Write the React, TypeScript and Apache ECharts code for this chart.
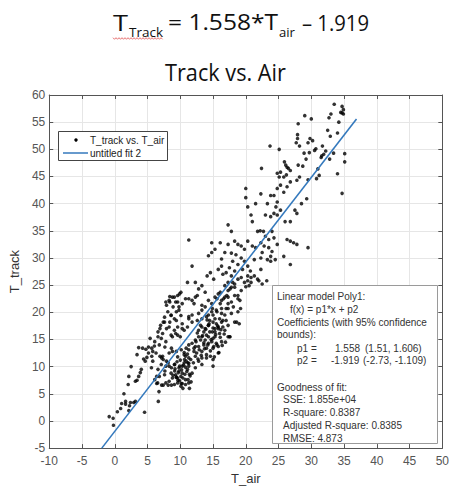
import { useEffect, useRef } from "react";
import * as echarts from "echarts";

// Fit coefficients (Linear model Poly1)
const p1 = 1.558;
const p2 = -1.919;
const fitXRange = [-1.98, 36.9];

// Scatter points [T_air, T_track], grouped by region
const lowRegion: number[][] = [
  [-0.85, 0.8], [-0.25, 0.5], [-0.2, -0.8], [0.4, 1.7], [0.9, 2.3], [1.05, 3.2], [1.65, 3.6], [1.65, 3.1],
  [2.25, 2.8], [2.4, 3.4], [2.9, 3.4], [3.15, 3.6], [2.15, 1.9], [1.4, 5.0], [2.05, 6.7], [2.15, 8.2],
  [2.5, 10.0], [3.15, 7.3], [3.4, 7.5], [3.65, 8.2], [3.9, 8.9], [4.05, 9.5], [4.55, 1.6], [4.65, 11.0],
  [4.4, 11.4], [4.9, 11.7], [3.4, 12.2], [3.65, 13.5], [4.25, 13.4], [4.75, 13.2], [5.15, 13.6], [5.65, 13.4],
  [6.05, 13.8], [5.15, 12.5], [5.65, 11.9], [6.4, 8.2], [6.55, 7.0], [6.4, 6.9], [6.75, 5.4], [6.65, 3.6],
  [7.65, 9.2], [7.15, 6.6], [7.4, 6.6], [8.15, 6.6], [8.65, 6.6], [6.9, 11.9], [7.15, 11.6], [7.4, 11.3],
  [7.9, 11.0], [8.15, 10.7], [8.65, 9.8], [9.15, 9.2], [8.9, 8.4], [9.4, 8.1], [9.65, 7.5], [10.15, 6.9],
  [10.4, 6.0], [9.15, 10.4], [9.9, 10.1], [7.65, 13.6], [8.65, 13.4], [9.4, 12.8], [10.15, 13.1], [10.9, 13.4],
  [10.65, 11.3], [11.15, 10.7], [11.4, 8.6], [11.65, 7.2], [11.4, 6.0],
];

const upperLeftRegion: number[][] = [
  [11.1, 25.5], [10.1, 23.7], [9.9, 23.4], [9.1, 22.8], [9.6, 21.9], [8.4, 21.9], [7.9, 21.3], [8.9, 21.0],
  [9.8, 21.0], [9.4, 20.1], [8.1, 20.1], [7.6, 19.1], [8.6, 19.4], [10.1, 19.4], [7.4, 18.2], [8.4, 18.2],
  [9.4, 18.5], [6.9, 17.0], [7.9, 17.0], [9.1, 16.7], [6.6, 16.4], [7.1, 15.2], [5.4, 15.2], [8.6, 15.8],
  [9.6, 15.8], [10.3, 17.0], [7.8, 21.9], [8.3, 22.2], [8.8, 22.8], [9.3, 21.9], [9.6, 23.1], [8.6, 19.5],
  [9.1, 18.8], [9.8, 20.4], [10.3, 21.6], [10.8, 22.5], [11.3, 22.5], [11.8, 22.2], [12.3, 22.8], [11.3, 19.2],
  [11.8, 18.2], [11.1, 17.3], [10.3, 17.9], [9.6, 17.3], [8.3, 17.3], [7.6, 18.2], [7.0, 17.6], [7.3, 16.1],
  [6.6, 15.5], [6.1, 14.6], [6.8, 14.0], [7.8, 14.6], [8.8, 15.5], [9.3, 16.1], [10.0, 15.5], [10.6, 16.7],
  [5.8, 12.8], [6.3, 12.5], [7.3, 11.9], [8.3, 12.5], [8.8, 12.8], [5.8, 11.0], [5.6, 9.8], [6.6, 9.5],
  [7.1, 10.4], [7.8, 10.1], [6.8, 8.2], [6.1, 7.6], [8.4, 22.9],
];

const middleRegion: number[][] = [
  [12.8, 19.8], [13.3, 20.4], [13.8, 21.0], [14.3, 22.2], [14.8, 21.6], [15.3, 22.8], [15.8, 23.4], [16.3, 22.2],
  [16.8, 22.8], [17.3, 21.6], [14.0, 19.2], [14.5, 18.5], [15.0, 19.5], [15.5, 17.9], [16.0, 18.8], [16.5, 17.3],
  [17.0, 18.5], [17.5, 15.5], [13.3, 17.3], [13.6, 16.4], [12.8, 15.5], [13.1, 14.9], [13.8, 14.9], [14.3, 15.5],
  [14.8, 14.6], [15.3, 15.5], [15.8, 13.7], [12.3, 13.7], [11.8, 14.3], [11.3, 13.1], [12.5, 12.5], [13.3, 12.8],
  [14.0, 13.4], [14.6, 11.9], [10.8, 11.9], [11.6, 11.3], [12.0, 10.7], [12.8, 11.0], [10.3, 10.1], [9.8, 9.2],
  [11.1, 9.5], [11.8, 8.8], [9.3, 8.5], [10.1, 8.2], [10.8, 7.6], [8.8, 7.9], [8.3, 7.3], [7.8, 7.0],
  [9.6, 7.0], [11.3, 7.0], [15.0, 10.1], [15.8, 12.5], [17.3, 15.5],
  [11.3, 14.0], [12.1, 13.4], [12.8, 13.7], [13.6, 14.0], [14.3, 14.3], [15.0, 13.4], [15.5, 14.3],
  [10.6, 12.2], [11.3, 11.6], [12.3, 11.9], [13.3, 11.6], [14.0, 12.2], [15.0, 11.3],
  [8.3, 10.1], [9.1, 10.4], [9.8, 9.8], [10.6, 10.7], [11.3, 10.1], [12.3, 9.8], [13.3, 10.4],
  [7.6, 8.5], [8.6, 8.8], [9.6, 7.9], [10.3, 8.8], [10.8, 6.7], [9.1, 6.7], [10.1, 6.4],
  [12.8, 16.7], [13.8, 17.0], [14.5, 16.4], [15.3, 17.0], [16.0, 16.1], [16.8, 16.7], [12.3, 14.9], [13.3, 15.5],
  [14.0, 15.8], [15.0, 15.2], [16.3, 14.6], [14.8, 20.1], [15.5, 20.4], [16.3, 19.8], [17.0, 20.7], [14.3, 17.6],
  [15.0, 18.2], [15.8, 17.3], [16.5, 18.5],
];

const denseClusters: number[][] = [
  [9.2, 9.6], [9.5, 10.9], [9.7, 8.9], [9.9, 7.4], [10.0, 11.2], [10.2, 9.4], [10.4, 7.9], [10.5, 10.3],
  [10.7, 8.6], [10.9, 11.0], [11.0, 9.1], [11.2, 7.6], [11.3, 10.6], [11.5, 8.3], [10.3, 6.9], [9.4, 8.0],
  [10.8, 9.9], [11.1, 12.3], [9.6, 11.8], [10.6, 12.6],
  [12.1, 12.8], [12.4, 14.6], [12.6, 16.2], [12.9, 13.1], [13.1, 17.6], [13.2, 12.1], [13.4, 15.7], [13.7, 13.3],
  [13.9, 16.9], [14.0, 11.6], [14.2, 14.0], [14.4, 17.9], [14.6, 12.9], [14.7, 15.0], [14.9, 16.4], [15.1, 13.7],
  [15.2, 11.8], [15.4, 15.9], [15.6, 14.0], [15.7, 17.5], [15.9, 12.6], [16.1, 15.4], [16.2, 16.8], [16.4, 13.9],
  [16.7, 16.0], [16.9, 14.5], [12.7, 11.4], [13.6, 14.4], [14.1, 18.6], [15.0, 17.1],
];

const centralRegion: number[][] = [
  [11.3, 33.3], [11.8, 28.5], [12.3, 25.5], [12.8, 24.3], [13.3, 24.9], [13.8, 23.7], [14.1, 26.7], [14.6, 27.3],
  [15.1, 26.1], [14.3, 30.4], [14.8, 31.0], [14.8, 32.8], [15.3, 31.6], [16.1, 32.8], [16.3, 29.8], [16.8, 31.0],
  [15.8, 27.9], [16.3, 28.5], [16.5, 27.0], [17.0, 27.3], [12.6, 23.1], [12.1, 21.6], [13.3, 21.3], [11.8, 19.5],
  [12.6, 18.5], [13.3, 18.8], [14.3, 19.5], [11.3, 18.8],
  [17.3, 25.5], [17.8, 26.7], [18.8, 26.1], [20.3, 26.7], [20.8, 25.5], [21.3, 26.7], [21.8, 26.1], [20.0, 24.7],
  [19.3, 24.0], [18.3, 23.1], [18.8, 22.5], [17.8, 21.9], [17.3, 20.7], [16.8, 19.5], [17.8, 19.8], [18.8, 20.1],
  [16.3, 18.2], [17.3, 17.6], [18.3, 18.2], [15.8, 17.0], [15.3, 16.4], [19.0, 17.9],
  [16.1, 21.6], [16.6, 22.5], [17.1, 23.1], [16.3, 20.7], [15.6, 20.1], [14.9, 20.7], [15.3, 18.8], [14.3, 17.6],
  [17.6, 24.3], [18.3, 24.6], [16.8, 24.9], [16.1, 23.7], [15.6, 22.5], [17.3, 22.8], [18.0, 25.5],
  [19.3, 26.4], [19.8, 25.5], [20.3, 25.8], [20.5, 24.9], [20.8, 26.4], [22.0, 25.8], [22.5, 25.2], [23.2, 25.8],
  [18.8, 23.1], [19.1, 22.2], [19.2, 20.7], [18.6, 18.2], [17.6, 15.5], [18.1, 21.0], [17.3, 24.0], [17.8, 24.6],
  [18.3, 25.2],
];

const upperRegion: number[][] = [
  [20.0, 42.8], [22.3, 41.8], [23.8, 41.5], [24.3, 41.5], [24.8, 42.8], [25.3, 43.4], [25.8, 42.1], [26.3, 43.1],
  [26.8, 44.0], [27.8, 44.3], [29.3, 40.9], [21.5, 40.0], [20.3, 39.4], [23.3, 40.0], [24.8, 40.3], [24.6, 39.4],
  [24.3, 38.2], [20.8, 37.9], [21.0, 36.7], [23.0, 37.9], [23.8, 37.6], [24.8, 37.9], [25.3, 38.8], [26.0, 36.7],
  [26.8, 36.7], [27.5, 38.8], [27.8, 38.2], [17.3, 36.1], [17.8, 34.9], [21.8, 34.9], [22.2, 35.0], [22.7, 34.9],
  [23.0, 34.0], [24.0, 34.9], [23.5, 33.4], [24.3, 33.7], [18.3, 33.1], [17.3, 32.5], [18.8, 32.5], [19.3, 32.2],
  [19.8, 31.6], [20.3, 33.1], [21.0, 32.2], [21.5, 31.9], [22.3, 32.8], [22.8, 32.2], [23.5, 31.9], [24.0, 31.2],
  [17.8, 30.9], [18.5, 30.6], [19.3, 30.0], [18.0, 29.4], [18.8, 28.8], [19.8, 29.4], [20.3, 28.5], [21.3, 29.7],
  [22.3, 30.0], [22.5, 31.0], [23.3, 29.7], [23.8, 30.3], [24.8, 32.5], [26.3, 33.4], [26.8, 33.1], [27.3, 32.8],
  [27.8, 32.5], [29.5, 31.9], [25.8, 30.3], [24.5, 29.7], [26.8, 28.8], [17.5, 28.2], [18.3, 27.6], [19.5, 27.9],
  [20.7, 27.6], [22.3, 27.9], [23.8, 29.4], [20.0, 41.1], [28.5, 40.0],
];

const topRegion: number[][] = [
  [33.5, 58.3], [34.7, 57.9], [34.9, 57.3], [34.5, 56.8], [34.7, 56.7], [34.9, 56.5], [33.0, 56.5], [32.7, 55.8],
  [34.2, 55.0], [29.0, 56.2], [30.0, 55.6], [28.0, 54.7], [32.5, 53.5], [32.9, 52.4], [34.0, 53.0], [27.9, 52.7],
  [27.9, 52.0], [27.7, 51.2], [29.8, 52.0], [30.2, 51.6], [29.5, 51.2], [28.2, 50.6], [23.7, 50.6], [25.1, 50.0],
  [30.7, 50.1], [31.7, 50.6], [32.2, 49.7], [31.9, 49.1], [31.6, 48.8], [31.5, 48.5], [30.5, 49.8], [29.7, 49.4],
  [28.9, 49.3], [29.2, 48.2], [28.7, 46.9], [28.0, 47.1], [32.8, 48.2], [33.4, 49.3], [35.1, 49.2], [35.1, 47.7],
  [34.0, 45.5], [34.7, 41.9], [22.4, 46.5], [25.9, 47.7], [26.1, 47.1], [26.3, 46.7], [26.5, 46.5], [26.8, 46.1],
  [26.2, 45.3], [25.8, 44.9], [24.8, 45.6], [25.1, 44.9], [25.3, 45.8], [31.0, 46.4], [31.2, 45.2], [30.8, 44.6],
  [29.5, 44.4], [28.2, 44.9],
];

const scatterData = [
  ...lowRegion, ...upperLeftRegion, ...middleRegion, ...denseClusters,
  ...centralRegion, ...upperRegion, ...topRegion,
];

const fitData = fitXRange.map((x) => [x, p1 * x + p2]);

const annotationLines = [
  { text: "Linear model Poly1:", x: 277, y: 296 },
  { text: "f(x) = p1*x + p2", x: 290, y: 309 },
  { text: "Coefficients (with 95% confidence", x: 277, y: 322 },
  { text: "bounds):", x: 277, y: 334 },
  { text: "p1 =", x: 297, y: 348 },
  { text: "1.558", x: 335, y: 348 },
  { text: "(1.51, 1.606)", x: 365, y: 348 },
  { text: "p2 =", x: 297, y: 360 },
  { text: "-1.919", x: 331, y: 360 },
  { text: "(-2.73, -1.109)", x: 363, y: 360 },
  { text: "Goodness of fit:", x: 277, y: 387 },
  { text: "SSE: 1.855e+04", x: 283, y: 399 },
  { text: "R-square: 0.8387", x: 283, y: 412 },
  { text: "Adjusted R-square: 0.8385", x: 283, y: 425 },
  { text: "RMSE: 4.873", x: 283, y: 438 },
];

const TITLE_FONT = "'Open Sans', 'Noto Sans', sans-serif";
const AX_FONT = "'Liberation Sans', Arial, sans-serif";
const BLUE = "#3479bd";

function measure(text: string, size: number, family: string): number {
  const c = document.createElement("canvas").getContext("2d");
  if (!c) return text.length * size * 0.5;
  c.font = `400 ${size}px ${family}`;
  return c.measureText(text).width;
}

function fitText(text: string, x0: number, x1: number, yMid: number, size: number, color = "#111") {
  const w = measure(text, size, TITLE_FONT);
  return {
    type: "text",
    x: x0,
    y: yMid,
    scaleX: (x1 - x0) / w,
    z: 100,
    style: {
      text,
      fontSize: size,
      fontWeight: 400,
      fontFamily: TITLE_FONT,
      fill: color,
      textAlign: "left",
      verticalAlign: "middle",
    },
  };
}

export default function App() {
  const ref = useRef<HTMLDivElement>(null);

  useEffect(() => {
    if (!ref.current) return;
    const chart = echarts.init(ref.current, undefined, { renderer: "svg" });

    const squiggle: number[][] = [];
    for (let x = 113, i = 0; x <= 163; x += 1.5, i++) {
      squiggle.push([x, 38.5 + (i % 2 === 0 ? -0.8 : 0.8)]);
    }

    const axisCommon = {
      min: -10,
      max: 50,
      interval: 5,
    };

    const graphic: any[] = [
      // Equation title
      fitText("T", 113, 128, 22.5, 21),
      fitText("Track", 129, 163, 32.5, 13),
      fitText("= 1.558*T", 168, 278, 22.5, 21),
      fitText("air", 279, 295, 32.5, 13),
      fitText("– 1.919", 302, 369, 22.5, 21),
      {
        type: "polyline",
        z: 100,
        shape: { points: squiggle },
        style: { stroke: "#e05050", lineWidth: 0.8, fill: null },
      },
      // Chart title
      fitText("Track vs. Air", 165, 286, 72.5, 23),
      // Legend
      {
        type: "rect",
        z: 100,
        shape: { x: 58.5, y: 131.5, width: 109, height: 29 },
        style: { fill: "#fff", stroke: "#444", lineWidth: 1 },
      },
      {
        type: "circle",
        z: 101,
        shape: { cx: 76, cy: 140, r: 1.7 },
        style: { fill: "#000" },
      },
      {
        type: "text",
        z: 101,
        x: 90,
        y: 140,
        style: { text: "T_track vs. T_air", fontSize: 10, fontFamily: AX_FONT, fill: "#222", verticalAlign: "middle" },
      },
      {
        type: "line",
        z: 101,
        shape: { x1: 63, y1: 153, x2: 88, y2: 153 },
        style: { stroke: BLUE, lineWidth: 1.5 },
      },
      {
        type: "text",
        z: 101,
        x: 90,
        y: 153,
        style: { text: "untitled fit 2", fontSize: 10, fontFamily: AX_FONT, fill: "#222", verticalAlign: "middle" },
      },
      // Annotation box
      {
        type: "rect",
        z: 100,
        shape: { x: 272.5, y: 285.5, width: 165, height: 158 },
        style: { fill: "#fff", stroke: "#9a9a9a", lineWidth: 1 },
      },
      ...annotationLines.map((l) => ({
        type: "text",
        z: 101,
        x: l.x,
        y: l.y,
        style: { text: l.text, fontSize: 10, fontFamily: AX_FONT, fill: "#333", verticalAlign: "middle" },
      })),
    ];

    chart.setOption({
      animation: false,
      backgroundColor: "#fff",
      grid: { left: 47, right: 3, top: 95, bottom: 37, containLabel: false },
      xAxis: [
        {
          type: "value",
          ...axisCommon,
          position: "bottom",
          name: "T_air",
          nameLocation: "middle",
          nameGap: 22,
          nameTextStyle: { fontSize: 13, fontFamily: AX_FONT, color: "#333" },
          axisLine: { show: true, onZero: false, lineStyle: { color: "#555", width: 1 } },
          axisTick: { show: true, inside: true, length: 4, lineStyle: { color: "#555" } },
          axisLabel: { fontSize: 12, fontFamily: AX_FONT, color: "#555", margin: 7 },
          splitLine: { show: true, lineStyle: { color: "#e6e6e6", width: 1 } },
        },
        {
          type: "value",
          ...axisCommon,
          position: "top",
          axisLine: { show: true, onZero: false, lineStyle: { color: "#555", width: 1 } },
          axisTick: { show: true, inside: true, length: 4, lineStyle: { color: "#555" } },
          axisLabel: { show: false },
          splitLine: { show: false },
        },
      ],
      yAxis: [
        {
          type: "value",
          min: -5,
          max: 60,
          interval: 5,
          position: "left",
          name: "T_track",
          nameLocation: "middle",
          nameGap: 17,
          nameTextStyle: { fontSize: 13, fontFamily: AX_FONT, color: "#333" },
          axisLine: { show: true, onZero: false, lineStyle: { color: "#555", width: 1 } },
          axisTick: { show: true, inside: true, length: 4, lineStyle: { color: "#555" } },
          axisLabel: { fontSize: 12, fontFamily: AX_FONT, color: "#555", margin: 4 },
          splitLine: { show: true, lineStyle: { color: "#e6e6e6", width: 1 } },
        },
        {
          type: "value",
          min: -5,
          max: 60,
          interval: 5,
          position: "right",
          axisLine: { show: true, onZero: false, lineStyle: { color: "#555", width: 1 } },
          axisTick: { show: true, inside: true, length: 4, lineStyle: { color: "#555" } },
          axisLabel: { show: false },
          splitLine: { show: false },
        },
      ],
      series: [
        {
          name: "T_track vs. T_air",
          type: "scatter",
          xAxisIndex: 0,
          yAxisIndex: 0,
          data: scatterData,
          symbol: "circle",
          symbolSize: 3.6,
          itemStyle: { color: "#000" },
          silent: true,
        },
        {
          name: "untitled fit 2",
          type: "line",
          xAxisIndex: 0,
          yAxisIndex: 0,
          data: fitData,
          showSymbol: false,
          lineStyle: { color: BLUE, width: 1.6 },
          silent: true,
          z: 3,
        },
      ],
      graphic,
    });

    return () => chart.dispose();
  }, []);

  return (
    <div
      ref={ref}
      style={{ position: "fixed", left: 0, top: 0, width: 452, height: 490, background: "#fff" }}
    />
  );
}
